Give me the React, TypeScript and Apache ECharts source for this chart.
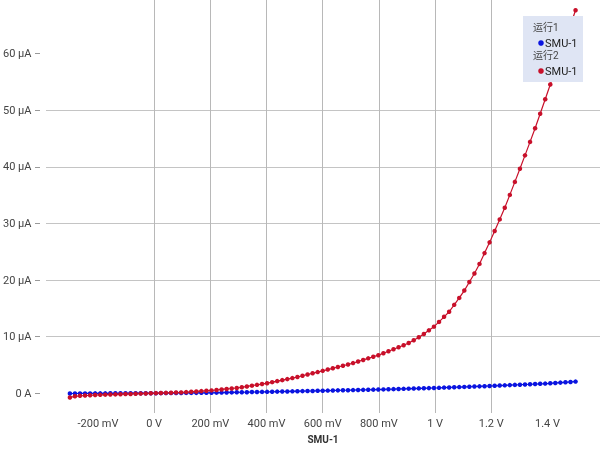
import React, { useEffect, useRef } from "react";
import * as echarts from "echarts";

// Sweep voltage (V) of SMU-1
const voltageV = [
  -0.3, -0.282, -0.264, -0.246, -0.228, -0.21, -0.192, -0.174, -0.156, -0.138,
  -0.12, -0.102, -0.084, -0.066, -0.048, -0.03, -0.012, 0.006, 0.024, 0.042,
  0.06, 0.078, 0.096, 0.114, 0.132, 0.15, 0.168, 0.186, 0.204, 0.222,
  0.24, 0.258, 0.276, 0.294, 0.312, 0.33, 0.348, 0.366, 0.384, 0.402,
  0.42, 0.438, 0.456, 0.474, 0.492, 0.51, 0.528, 0.546, 0.564, 0.582,
  0.6, 0.618, 0.636, 0.654, 0.672, 0.69, 0.708, 0.726, 0.744, 0.762,
  0.78, 0.798, 0.816, 0.834, 0.852, 0.87, 0.888, 0.906, 0.924, 0.942,
  0.96, 0.978, 0.996, 1.014, 1.032, 1.05, 1.068, 1.086, 1.104, 1.122,
  1.14, 1.158, 1.176, 1.194, 1.212, 1.23, 1.248, 1.266, 1.284, 1.302,
  1.32, 1.338, 1.356, 1.374, 1.392, 1.41, 1.428, 1.446, 1.464, 1.482,
  1.5,
];

// 运行1 SMU-1 current (µA)
const run1CurrentUA = [
  -0.05, -0.05, -0.04, -0.04, -0.04, -0.03, -0.03, -0.03, -0.02, -0.02,
  -0.01, -0.01, 0.0, 0.0, 0.0, 0.0, 0.0, 0.0, 0.01, 0.02,
  0.02, 0.03, 0.04, 0.05, 0.05, 0.06, 0.07, 0.07, 0.08, 0.1,
  0.11, 0.13, 0.14, 0.16, 0.17, 0.18, 0.2, 0.21, 0.23, 0.24,
  0.26, 0.28, 0.3, 0.31, 0.33, 0.35, 0.37, 0.39, 0.4, 0.42,
  0.44, 0.46, 0.48, 0.5, 0.52, 0.53, 0.55, 0.57, 0.59, 0.61,
  0.63, 0.65, 0.67, 0.7, 0.72, 0.75, 0.77, 0.8, 0.82, 0.85,
  0.87, 0.9, 0.92, 0.95, 0.99, 1.02, 1.05, 1.08, 1.11, 1.14,
  1.18, 1.21, 1.24, 1.27, 1.31, 1.35, 1.39, 1.43, 1.47, 1.5,
  1.54, 1.58, 1.62, 1.66, 1.7, 1.75, 1.81, 1.87, 1.93, 1.99,
  2.05,
];

// 运行2 SMU-1 current (µA)
const run2CurrentUA = [
  -0.75, -0.55, -0.46, -0.41, -0.37, -0.32, -0.29, -0.26, -0.23, -0.21,
  -0.18, -0.15, -0.13, -0.1, -0.07, -0.05, -0.02, 0.01, 0.04, 0.06,
  0.09, 0.12, 0.14, 0.19, 0.25, 0.31, 0.37, 0.43, 0.49, 0.57,
  0.66, 0.75, 0.83, 0.92, 1.04, 1.19, 1.33, 1.48, 1.62, 1.77,
  1.95, 2.13, 2.31, 2.49, 2.67, 2.87, 3.09, 3.3, 3.52, 3.73,
  3.95, 4.18, 4.4, 4.63, 4.85, 5.08, 5.32, 5.6, 5.88, 6.16,
  6.44, 6.72, 7.06, 7.41, 7.76, 8.12, 8.47, 8.87, 9.37, 9.88,
  10.46, 11.11, 11.76, 12.6, 13.5, 14.4, 15.62, 16.84, 18.14, 19.65,
  21.16, 22.85, 24.76, 26.66, 28.67, 30.72, 32.77, 35.05, 37.35, 39.66,
  42.04, 44.42, 46.84, 49.4, 51.96, 54.56, 57.19, 59.82, 62.45, 65.07,
  67.7,
];

const xTickValues = [-0.2, 0, 0.2, 0.4, 0.6, 0.8, 1, 1.2, 1.4];
const yTickValues = [0, 10, 20, 30, 40, 50, 60];
const runNames = ["运行1", "运行2"];
const channelName = "SMU-1";
const xAxisName = "SMU-1";
const runColors = ["#0a14e0", "#c8102a"];

const FONT = "Roboto, 'Noto Sans CJK SC', 'Noto Sans', sans-serif";

function formatVolt(v: number): string {
  const mv = Math.round(v * 1000);
  if (mv === 0) return "0 V";
  if (Math.abs(mv) < 1000) return `${mv} mV`;
  return `${parseFloat((mv / 1000).toFixed(3))} V`;
}

function formatAmp(v: number): string {
  const r = Math.round(v);
  return r === 0 ? "0 A" : `${r} µA`;
}

export default function App() {
  const ref = useRef<HTMLDivElement>(null);

  useEffect(() => {
    if (!ref.current) return;
    const chart = echarts.init(ref.current, undefined, { renderer: "svg" });

    const runs = [run1CurrentUA, run2CurrentUA];
    const LZ = 100;

    const legendChildren: any[] = [
      {
        type: "rect",
        z: LZ,
        shape: { x: 0, y: 0, width: 60, height: 66 },
        style: { fill: "#dfe5f4" },
      },
    ];
    runNames.forEach((name, i) => {
      const baseY = 11 + i * 28;
      legendChildren.push({
        type: "text",
        z: LZ + 1,
        x: 10,
        y: baseY,
        style: {
          text: name,
          fontSize: 10,
          fontFamily: FONT,
          fill: "#444",
          verticalAlign: "middle",
          align: "left",
        },
      });
      legendChildren.push({
        type: "circle",
        z: LZ + 1,
        shape: { cx: 18, cy: baseY + 16, r: 2.8 },
        style: { fill: runColors[i] },
      });
      legendChildren.push({
        type: "text",
        z: LZ + 1,
        x: 22,
        y: baseY + 16,
        style: {
          text: channelName,
          fontSize: 11,
          fontFamily: FONT,
          fill: "#222",
          verticalAlign: "middle",
          align: "left",
        },
      });
    });

    chart.setOption({
      animation: false,
      textStyle: { fontFamily: FONT },
      grid: { left: 41.5, right: 0, top: 0, bottom: 37, containLabel: false },
      xAxis: {
        type: "value",
        min: -0.385,
        max: 1.587,
        splitNumber: 10,
        name: xAxisName,
        nameLocation: "middle",
        nameGap: 21,
        nameTextStyle: {
          fontWeight: "bold",
          fontSize: 10,
          color: "#333",
          fontFamily: FONT,
        },
        axisLine: { show: false, onZero: false },
        axisTick: { show: false, customValues: xTickValues },
        axisLabel: {
          customValues: xTickValues,
          formatter: formatVolt,
          fontSize: 11,
          color: "#444",
          margin: 5,
          fontFamily: FONT,
        },
        splitLine: {
          show: true,
          showMinLine: false,
          showMaxLine: false,
          lineStyle: { color: "#b8b8b8", width: 1 },
        },
      },
      yAxis: {
        type: "value",
        min: -3.5,
        max: 69.5,
        splitNumber: 7,
        offset: 6,
        axisLine: { show: false, onZero: false },
        axisTick: {
          show: true,
          length: 5,
          customValues: yTickValues,
          lineStyle: { color: "#999" },
        },
        axisLabel: {
          customValues: yTickValues,
          formatter: formatAmp,
          fontSize: 11,
          color: "#444",
          margin: 8.5,
          fontFamily: FONT,
        },
        splitLine: {
          show: true,
          showMinLine: false,
          showMaxLine: false,
          lineStyle: { color: "#c4c4c4", width: 1 },
        },
      },
      series: runs.map((vals, i) => ({
        name: `${runNames[i]} ${channelName}`,
        type: "line",
        data: voltageV.map((v, k) => [v, vals[k]]),
        symbol: "circle",
        symbolSize: 4.5,
        showAllSymbol: true,
        color: runColors[i],
        itemStyle: { color: runColors[i] },
        lineStyle: { color: runColors[i], width: 1.2 },
        z: 2 + i,
      })),
      graphic: [
        {
          type: "group",
          x: 523,
          y: 16,
          z: LZ,
          children: legendChildren,
        },
      ],
    });

    return () => chart.dispose();
  }, []);

  return (
    <div
      ref={ref}
      style={{ position: "fixed", left: 0, top: 0, width: 600, height: 450 }}
    />
  );
}
